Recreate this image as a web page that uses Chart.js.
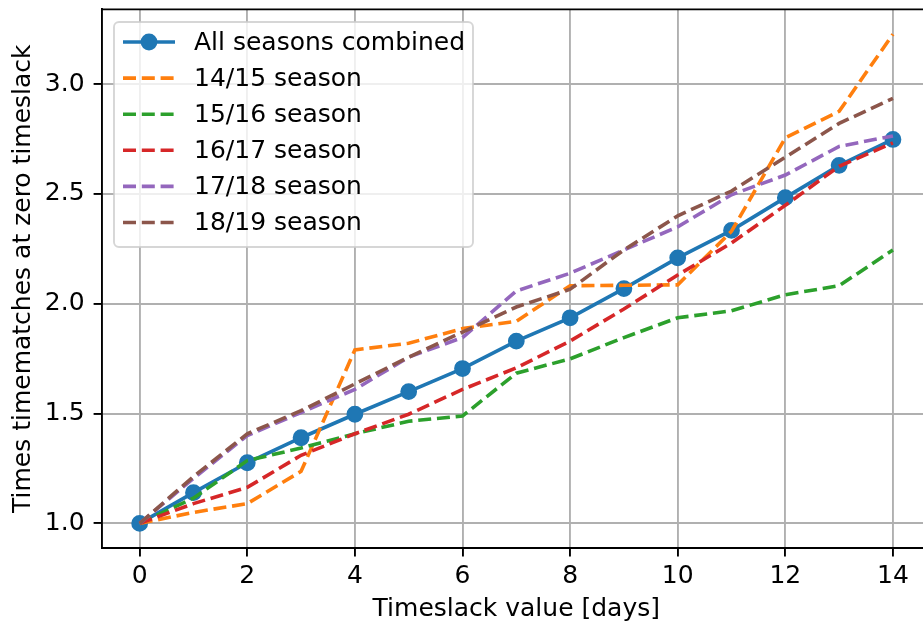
<!DOCTYPE html>
<html lang="en">

<head>
  <meta charset="UTF-8">
  <title>Timeslack vs timematches</title>
  <style>
/* Page */
html, body {
  margin: 0;
  padding: 0;
  background-color: #ffffff;
  overflow: hidden;
}

/* Canvas is a bit wider than the window so the right edge of the frame falls off */
.chart-box {
  width: 940px;
  height: 626px;
}
  </style>
</head>

<body>
  <div class="chart-box">
    <canvas id="timeslackChart"></canvas>
  </div>

  <script src="https://cdn.jsdelivr.net/npm/chart.js"></script>
  <script>
    // Timeslack in days (x axis)
    const days = [0, 1, 2, 3, 4, 5, 6, 7, 8, 9, 10, 11, 12, 13, 14];

    // Times timematches at zero timeslack, per season
    const allSeasons = [1.00, 1.14, 1.276, 1.39, 1.497, 1.60, 1.705, 1.83, 1.936, 2.069, 2.209, 2.334, 2.483, 2.63, 2.748];
    const season1415 = [1.00, 1.05, 1.09, 1.237, 1.79, 1.82, 1.887, 1.92, 2.082, 2.084, 2.086, 2.33, 2.755, 2.876, 3.227];
    const season1516 = [1.00, 1.115, 1.286, 1.343, 1.408, 1.465, 1.489, 1.684, 1.749, 1.846, 1.936, 1.968, 2.041, 2.082, 2.245];
    const season1617 = [1.00, 1.09, 1.164, 1.31, 1.408, 1.497, 1.61, 1.708, 1.83, 1.976, 2.131, 2.277, 2.448, 2.626, 2.732];
    const season1718 = [1.00, 1.205, 1.40, 1.505, 1.61, 1.757, 1.846, 2.058, 2.139, 2.245, 2.35, 2.496, 2.586, 2.716, 2.764];
    const season1819 = [1.00, 1.213, 1.408, 1.513, 1.635, 1.757, 1.871, 1.985, 2.066, 2.245, 2.40, 2.513, 2.667, 2.821, 2.935];

    // Tick labels
    const xTicks = [0, 2, 4, 6, 8, 10, 12, 14];
    const yTicks = [1.0, 1.5, 2.0, 2.5, 3.0];

    const FONT = "'DejaVu Sans', sans-serif";
    const FONT_SIZE = 25;
    const DASH = [13, 5.8];

    function toPoints(values) {
      return values.map((v, i) => ({ x: days[i], y: v }));
    }

    function dashed(label, values, color, order) {
      return {
        label: label,
        data: toPoints(values),
        borderColor: color,
        backgroundColor: color,
        borderWidth: 3.6,
        borderDash: DASH,
        pointRadius: 0,
        tension: 0,
        order: order
      };
    }

    // Frame on top and right, plus the legend box inside the plot
    const framePlugin = {
      id: 'framePlugin',
      afterDraw(chart) {
        const ctx = chart.ctx;
        const a = chart.chartArea;
        ctx.save();
        ctx.strokeStyle = '#000000';
        ctx.lineWidth = 1.9;
        ctx.beginPath();
        ctx.moveTo(a.left, a.top);
        ctx.lineTo(a.right, a.top);
        ctx.lineTo(a.right, a.bottom);
        ctx.stroke();

        // legend
        const x0 = 114, y0 = 22, w = 359, h = 225, r = 5;
        ctx.fillStyle = 'rgba(255,255,255,0.8)';
        ctx.strokeStyle = 'rgba(204,204,204,0.8)';
        ctx.lineWidth = 1.9;
        ctx.beginPath();
        ctx.roundRect(x0, y0, w, h, r);
        ctx.fill();
        ctx.stroke();

        ctx.font = FONT_SIZE + 'px ' + FONT;
        ctx.textBaseline = 'middle';
        ctx.textAlign = 'left';
        chart.data.datasets.forEach((ds, i) => {
          const cy = 42 + i * 36.1;
          ctx.strokeStyle = ds.borderColor;
          ctx.lineWidth = 3.6;
          ctx.setLineDash(ds.borderDash || []);
          ctx.beginPath();
          ctx.moveTo(123, cy);
          ctx.lineTo(175, cy);
          ctx.stroke();
          ctx.setLineDash([]);
          if (ds.pointRadius > 0) {
            ctx.fillStyle = ds.pointBackgroundColor;
            ctx.beginPath();
            ctx.arc(149, cy, 8.4, 0, Math.PI * 2);
            ctx.fill();
          }
          ctx.fillStyle = '#000000';
          ctx.fillText(ds.label, 194, cy + 1);
        });
        ctx.restore();
      }
    };

    Chart.defaults.font.family = FONT;
    Chart.defaults.font.size = FONT_SIZE;
    Chart.defaults.color = '#000000';

    const ctx = document.getElementById('timeslackChart').getContext('2d');
    new Chart(ctx, {
      type: 'line',
      data: {
        datasets: [
          {
            label: 'All seasons combined',
            data: toPoints(allSeasons),
            borderColor: '#1f77b4',
            backgroundColor: '#1f77b4',
            pointBackgroundColor: '#1f77b4',
            pointBorderColor: '#1f77b4',
            pointRadius: 7.4,
            pointBorderWidth: 2,
            borderWidth: 3.6,
            tension: 0,
            order: 6
          },
          dashed('14/15 season', season1415, '#ff7f0e', 5),
          dashed('15/16 season', season1516, '#2ca02c', 4),
          dashed('16/17 season', season1617, '#d62728', 3),
          dashed('17/18 season', season1718, '#9467bd', 2),
          dashed('18/19 season', season1819, '#8c564b', 1)
        ]
      },
      options: {
        responsive: true,
        maintainAspectRatio: false,
        animation: false,
        events: [],
        layout: {
          padding: { top: 9, right: 8, left: 0, bottom: 0 }
        },
        plugins: {
          legend: { display: false },
          tooltip: { enabled: false }
        },
        scales: {
          x: {
            type: 'linear',
            min: -0.7,
            max: 14.7,
            afterBuildTicks: scale => { scale.ticks = xTicks.map(v => ({ value: v })); },
            afterFit: scale => {
              scale.height = 78;
              scale.paddingLeft = 0;
              scale.paddingRight = 0;
            },
            grid: {
              color: '#b0b0b0',
              lineWidth: 1.9,
              tickColor: '#000000',
              tickLength: 8.4,
              tickWidth: 1.9
            },
            border: { display: true, color: '#000000', width: 1.9 },
            ticks: {
              padding: 5,
              callback: v => String(v)
            },
            title: {
              display: true,
              text: 'Timeslack value [days]',
              padding: { top: 0, bottom: 2 }
            }
          },
          y: {
            min: 0.888,
            max: 3.34,
            afterBuildTicks: scale => { scale.ticks = yTicks.map(v => ({ value: v })); },
            afterFit: scale => {
              scale.width = 102;
              scale.paddingTop = 0;
              scale.paddingBottom = 0;
            },
            grid: {
              color: '#b0b0b0',
              lineWidth: 1.9,
              tickColor: '#000000',
              tickLength: 8.4,
              tickWidth: 1.9
            },
            border: { display: true, color: '#000000', width: 1.9 },
            ticks: {
              padding: 9,
              callback: v => v.toFixed(1)
            },
            title: {
              display: true,
              text: 'Times timematches at zero timeslack',
              padding: { top: 8, bottom: 0 }
            }
          }
        }
      },
      plugins: [framePlugin]
    });
  </script>
</body>

</html>
